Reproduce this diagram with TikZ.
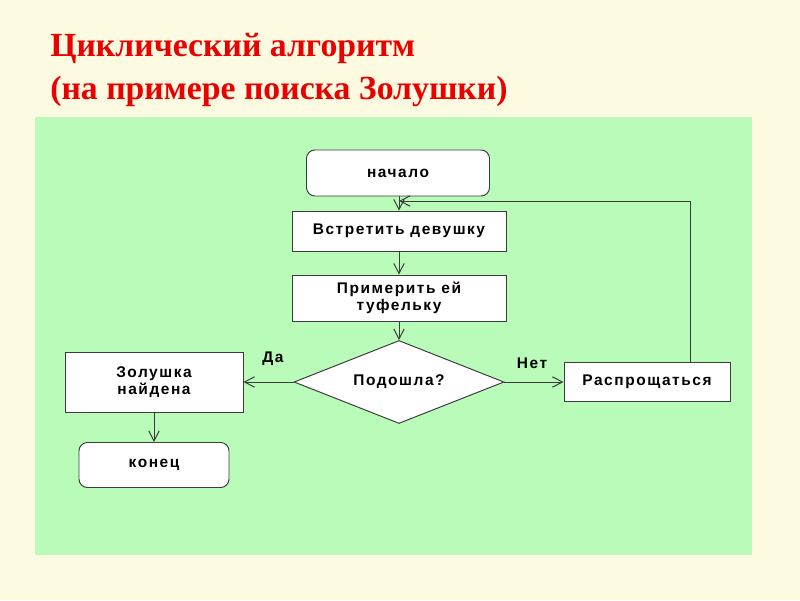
\documentclass[tikz,border=0pt]{standalone}
\usepackage{fontspec}
\setmainfont{Liberation Serif}
\newfontfamily\boxfont[LetterSpace=10]{Liberation Sans}
\usepackage{tikz}
\usetikzlibrary{positioning, shapes.geometric, arrows.meta}
\definecolor{paper}{RGB}{252,251,225}
\definecolor{panel}{RGB}{185,251,185}
\definecolor{titlered}{RGB}{235,0,0}
\definecolor{edge}{RGB}{60,60,60}

\begin{document}
\begin{tikzpicture}[
  box/.style={draw=edge, fill=white, line width=0.7pt, align=center, inner sep=0pt,
    font=\boxfont\bfseries\fontsize{11}{12.5}\selectfont},
  term/.style={box, rounded corners=6pt},
  decision/.style={box, diamond, aspect=2.5},
  arr/.style={draw=edge, line width=0.7pt, -{Straight Barb[length=2.5mm,width=2.6mm]}},
  lbl/.style={font=\boxfont\bfseries\fontsize{11}{13}\selectfont}
]
% background and panel
\useasboundingbox (0,0) rectangle (20,15);
\fill[paper] (0,0) rectangle (20,15);
\fill[panel] (0.875,1.125) rectangle (18.8,12.075);
% title
\node[anchor=base west, inner sep=0, text=titlered, font=\bfseries\fontsize{24}{26}\selectfont] (title1) at (1.25,13.575) {Циклический алгоритм};
\node[anchor=base west, inner sep=0, text=titlered, font=\bfseries\fontsize{24}{26}\selectfont] (title2) at (1.25,12.5) {(на примере поиска Золушки)};
% blocks
\node[term, minimum width=4.575cm, minimum height=1.15cm] (start) at (9.95,10.675) {начало};
\node[box, minimum width=5.35cm, minimum height=1cm] (meet) at (9.975,9.225) {Встретить девушку};
\node[box, minimum width=5.35cm, minimum height=1.15cm] (try) at (9.975,7.55) {Примерить ей\\туфельку};
\node[decision, minimum width=5.25cm, minimum height=2.075cm] (fits) at (9.975,5.45) {Подошла?};
\node[box, minimum width=4.15cm, minimum height=0.975cm] (bye) at (16.175,5.45) {Распрощаться};
\node[box, minimum width=4.45cm, minimum height=1.5cm] (found) at (3.85,5.45) {Золушка\\найдена};
\node[term, minimum width=3.75cm, minimum height=1.125cm] (stop) at (3.85,3.375) {конец};
% answers
\node[lbl] (yes) at (6.825,6.025) {Да};
\node[lbl] (no) at (13.3,5.925) {Нет};
% arrows
\coordinate (join) at (9.975,9.975);
\coordinate (corner) at (17.25,9.975);
\draw[arr] (start.south -| meet.north) -- (meet.north);
\draw[arr] (meet) -- (try);
\draw[arr] (try) -- (fits);
\draw[arr] (fits.west) -- (found.east);
\draw[arr] (fits.east) -- (bye.west);
\draw[arr] (found) -- (stop);
\draw[arr] (bye.north -| corner) |- (join);
\end{tikzpicture}
\end{document}
